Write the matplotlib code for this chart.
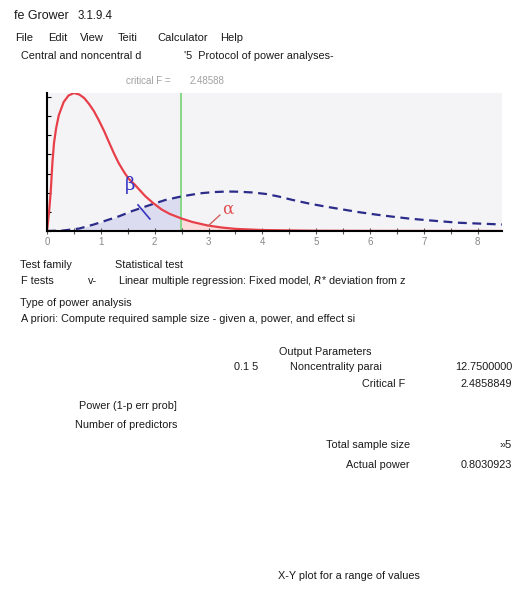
import numpy as np
import matplotlib.pyplot as plt

# central F distribution (red)
red_x = [0, 0.04, 0.07, 0.10, 0.13, 0.17, 0.22, 0.31, 0.40, 0.50, 0.60, 0.69, 0.78,
         0.87, 0.96, 1.06, 1.15, 1.24, 1.33, 1.43, 1.52, 1.62, 1.72, 1.82, 1.97,
         2.13, 2.28, 2.49, 2.70, 2.98, 3.25, 3.50, 4.0, 4.5, 5.0, 6.0, 7.0, 8.45]
red_y = [0, 0.104, 0.209, 0.355, 0.459, 0.537, 0.605, 0.673, 0.707, 0.720, 0.712,
         0.694, 0.663, 0.626, 0.579, 0.522, 0.464, 0.407, 0.355, 0.308, 0.271,
         0.245, 0.214, 0.183, 0.146, 0.112, 0.089, 0.066, 0.047, 0.029, 0.018,
         0.011, 0.005, 0.003, 0.0013, 0.0005, 0.0002, 0]

# noncentral F distribution (blue dashed)
blue_x = [0, 0.3, 0.6, 0.87, 1.1, 1.35, 1.58, 1.8, 1.97, 2.2, 2.49, 2.7, 2.89, 3.1,
          3.33, 3.55, 3.82, 4.07, 4.3, 4.56, 4.87, 5.18, 5.5, 5.8, 6.1, 6.41, 6.72,
          7.03, 7.34, 7.65, 8.0, 8.45]
blue_y = [0, 0.0026, 0.013, 0.034, 0.055, 0.078, 0.104, 0.125, 0.141, 0.162, 0.180,
          0.190, 0.198, 0.203, 0.206, 0.205, 0.201, 0.193, 0.180, 0.162, 0.143,
          0.127, 0.112, 0.098, 0.086, 0.075, 0.065, 0.057, 0.050, 0.043, 0.039, 0.034]

crit_f = 2.48588
x_ticks = [0, 1, 2, 3, 4, 5, 6, 7, 8]

W, H = 512, 596
fig = plt.figure(figsize=(W / 100, H / 100), dpi=100)
plt.rcParams['font.family'] = ['Liberation Sans', 'DejaVu Sans']

ax = fig.add_axes([47 / W, 1 - 231 / H, 455 / W, 138 / H])
ax.set_facecolor('#f4f4f6')
ax.set_xlim(0, 8.45)
ax.set_ylim(0, 0.72)

rx = np.array(red_x)
ry = np.array(red_y)
bx = np.array(blue_x)
by = np.array(blue_y)

ax.fill_between(bx, by, where=bx <= crit_f + 0.01, color='#dcdcf0', lw=0)
ax.fill_between(rx, ry, where=rx >= crit_f - 0.01, color='#fadcdc', lw=0)
ax.axvline(crit_f, color='#86d886', lw=1.4)
ax.plot(bx, by, color='#2b2b8a', lw=1.6, dashes=(4, 2.5))
ax.plot(rx, ry, color='#e8404a', lw=1.6)

# beta / alpha markers
ax.plot([1.69, 1.91], [0.136, 0.063], color='#3535c0', lw=1.2)
ax.text(1.54, 0.24, 'β', color='#3535c8', fontsize=13, ha='center', va='center',
        family='DejaVu Serif')
ax.plot([3.21, 2.99], [0.083, 0.026], color='#d06060', lw=1.0)
ax.text(3.36, 0.115, 'α', color='#e05050', fontsize=12, ha='center', va='center',
        family='DejaVu Serif')

for side in ['top', 'right']:
    ax.spines[side].set_visible(False)
ax.spines['left'].set_linewidth(1.5)
ax.spines['bottom'].set_linewidth(1.5)
ax.set_xticks(x_ticks)
ax.set_xticklabels([str(t) for t in x_ticks], color='#888888', fontsize=7)
ax.set_xticks(np.arange(0.5, 8.5, 1), minor=True)
ax.tick_params(axis='x', which='both', direction='inout', length=4, width=0.8,
               color='#555555', pad=2)
ax.set_yticks(np.arange(0, 0.75, 0.1))
ax.set_yticklabels([])
ax.tick_params(axis='y', direction='in', length=3, width=0.8)

fig.text(126 / W, 1 - 81 / H, 'critical F =', color='#a0a0a0',
         fontsize=7, ha='left', va='center')
fig.text(190 / W, 1 - 81 / H, '2.48588', color='#a0a0a0',
         fontsize=7, ha='left', va='center')


def T(x, y, s, **kw):
    kw.setdefault('fontsize', 7.8)
    kw.setdefault('color', '#1a1a1a')
    fig.text(x / W, 1 - y / H, s, va='center', **kw)


T(14, 16, 'fe Grower', fontsize=9)
T(78, 16, '3.1.9.4', fontsize=8.3)
for x, s in [(15, 'File'), (48, 'Edit'), (80, 'View'), (118, 'Teiti'),
             (157, 'Calculator'), (220, 'Help')]:
    T(x, 38, s, fontsize=8)
T(21, 56, 'Central and noncentral d')
T(184, 56, "'5  Protocol of power analyses-")

T(20, 265, 'Test family')
T(115, 265, 'Statistical test')
T(21, 281, 'F tests')
T(88, 281, 'v-')
T(118, 281, 'Linear multiple regression: Fixed model, $R$* deviation from z')
T(20, 303, 'Type of power analysis')
T(21, 319, 'A priori: Compute required sample size - given a, power, and effect si')

T(279, 352, 'Output Parameters')
T(258, 367, '0.1 5', ha='right')
T(290, 367, 'Noncentrality parai')
T(512, 367, '12.7500000', ha='right')
T(405, 384, 'Critical F', ha='right')
T(512, 384, '2.4858849', ha='right')
T(177, 406, 'Power (1-p err prob]', ha='right')
T(177, 425, 'Number of predictors', ha='right')
T(410, 445, 'Total sample size', ha='right')
T(512, 445, '»5', ha='right')
T(410, 465, 'Actual power', ha='right')
T(512, 465, '0.8030923', ha='right')
T(278, 576, 'X-Y plot for a range of values')

fig.savefig('out.png', dpi=100)
